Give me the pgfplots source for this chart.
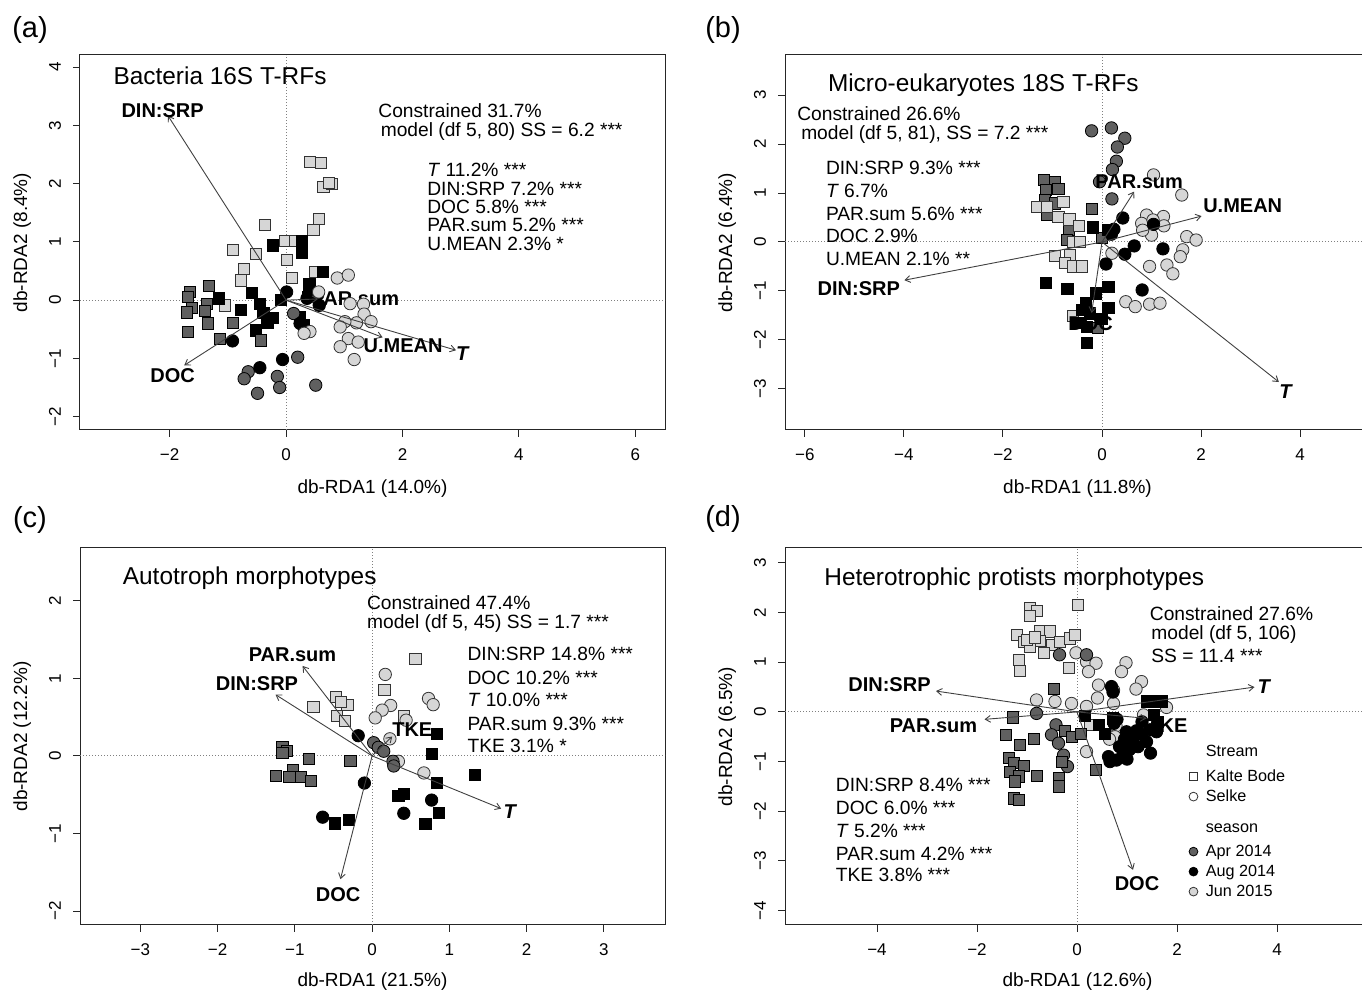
\documentclass[border=0pt]{standalone}
\usepackage{fontspec}
\setmainfont{Liberation Sans}
\usepackage{pgfplots}
\pgfplotsset{compat=1.18}
\usetikzlibrary{arrows.meta}

\definecolor{aprc}{RGB}{96,96,96}
\definecolor{junc}{RGB}{214,214,214}

\newcommand\fT{\fontsize{12.2}{14}\selectfont}
\newcommand\fS{\fontsize{9.6}{11}\selectfont}
\newcommand\fB{\fontsize{10}{12}\selectfont\bfseries}
\newcommand\fK{\fontsize{8.5}{10}\selectfont}
\newcommand\fL{\fontsize{9.5}{11}\selectfont}
\newcommand\fP{\fontsize{14.5}{16}\selectfont}
\newcommand\fG{\fontsize{8.1}{10}\selectfont}

\tikzset{
  zl/.style={densely dotted, gray, line width=0.5pt},
  lab/.style={font=\fB, inner sep=0pt},
  txt/.style={font=\fS, anchor=west, inner sep=0pt},
}

\pgfplotsset{
  rda/.style={
    scale only axis, width=292.5pt, height=187.5pt, anchor=south west,
    axis line style={line width=0.5pt, black!85},
    tick align=outside, tick pos=left,
    major tick length=3.5pt,
    tick style={black!85, line width=0.5pt},
    xticklabel style={anchor=center, font=\fK},
    yticklabel style={anchor=center, rotate=90, font=\fK},
    xticklabel shift=9pt, yticklabel shift=9pt,
    every axis x label/.style={at={(axis description cs:0.5,-0.155)}, anchor=center, font=\fL},
    every axis y label/.style={at={(axis description cs:-0.099,0.5)}, rotate=90, anchor=center, font=\fL},
    clip mode=individual,
  },
  sqA/.style={only marks, forget plot, mark=square*, mark size=2.8pt, mark options={fill=aprc, draw=black, line width=0.4pt}},
  sqB/.style={only marks, forget plot, mark=square*, mark size=2.8pt, mark options={fill=black, draw=black, line width=0.4pt}},
  sqJ/.style={only marks, forget plot, mark=square*, mark size=2.8pt, mark options={fill=junc, draw=black!80, line width=0.4pt}},
  ciA/.style={only marks, forget plot, mark=*, mark size=3.1pt, mark options={fill=aprc, draw=black, line width=0.4pt}},
  ciB/.style={only marks, forget plot, mark=*, mark size=3.1pt, mark options={fill=black, draw=black, line width=0.4pt}},
  ciJ/.style={only marks, forget plot, mark=*, mark size=3.1pt, mark options={fill=junc, draw=black!80, line width=0.4pt}},
  arr/.style={no marks, forget plot, line width=0.45pt, black!75, -{Straight Barb[length=2.6pt,width=3.4pt]}},
}

\begin{document}
\begin{tikzpicture}
\path[use as bounding box] (0,0) rectangle (681pt,495.5pt);

\node[font=\fP] at (15pt,480.5pt) {(a)};
\node[font=\fP] at (361.5pt,480.5pt) {(b)};
\node[font=\fP] at (15pt,235.5pt) {(c)};
\node[font=\fP] at (361.5pt,236pt) {(d)};

% ---------------- (a) ----------------
\begin{axis}[rda, at={(40pt,280.5pt)},
  xmin=-3.54, xmax=6.51, ymin=-2.23, ymax=4.21,
  xtick={-2,0,2,4,6}, xticklabels={−2,0,2,4,6},
  ytick={-2,-1,0,1,2,3,4}, yticklabels={−2,−1,0,1,2,3,4},
  xlabel={db-RDA1 (14.0\%)}, ylabel={db-RDA2 (8.4\%)}]
\draw[zl] ({rel axis cs:0,0}|-{axis cs:0,0}) -- ({rel axis cs:1,0}|-{axis cs:0,0});
\draw[zl] ({rel axis cs:0,0}-|{axis cs:0,0}) -- ({rel axis cs:0,1}-|{axis cs:0,0});
\node[lab] at (axis cs:1.19,0.02) {PAR.sum};
\addplot[sqJ] coordinates {(0.41,2.38) (0.60,2.35) (0.64,1.95) (0.79,2.00) (0.74,2.02) (0.57,1.39) (0.47,1.20) (-0.37,1.29) (-0.02,1.02) (0.15,1.02) (-0.91,0.86) (-0.52,0.80) (0.02,0.69) (-0.73,0.54) (-0.77,0.34) (0.10,0.38) (0.50,0.49) (-1.05,-0.09)};
\addplot[sqB] coordinates {(-0.22,0.94) (0.27,1.02) (0.27,0.81) (0.63,0.48) (0.40,0.27) (-0.59,0.13) (-1.15,0.03) (-0.77,-0.17) (-0.45,-0.07) (-0.09,0.00) (-0.39,-0.22) (-0.23,-0.31) (-0.32,-0.39) (-0.52,-0.52) (0.38,0.06) (0.24,-0.29) (0.30,-0.43)};
\addplot[sqA] coordinates {(-1.65,0.14) (-1.68,0.06) (-1.32,0.24) (-1.36,-0.07) (-1.62,-0.13) (-1.71,-0.21) (-1.39,-0.18) (-1.34,-0.40) (-0.92,-0.39) (-1.68,-0.54) (-1.13,-0.66) (-0.43,-0.69)};
\addplot[ciA] coordinates {(0.13,-0.23) (0.20,-0.98) (-0.65,-1.23) (-0.72,-1.35) (-0.15,-1.31) (-0.11,-1.50) (-0.49,-1.60) (0.51,-1.46)};
\addplot[ciB] coordinates {(0.01,0.14) (0.36,0.03) (0.57,-0.09) (0.24,-0.40) (-0.92,-0.70) (-0.06,-1.02) (-0.45,-1.16)};
\addplot[ciJ] coordinates {(0.88,0.38) (1.07,0.43) (0.56,0.14) (1.10,-0.06) (1.33,-0.07) (1.34,-0.24) (1.46,-0.37) (1.21,-0.39) (1.01,-0.37) (0.93,-0.46) (0.41,-0.54) (0.31,-0.57) (1.07,-0.66) (0.93,-0.80) (1.24,-0.72) (1.17,-1.02)};
\addplot[arr] coordinates {(0,0) (-2.03,3.17)};
\addplot[arr] coordinates {(0,0) (-1.75,-1.12)};
\addplot[arr] coordinates {(0,0) (2.92,-0.86)};
\addplot[arr] coordinates {(0,0) (1.66,-0.64)};
\addplot[arr] coordinates {(0,0) (0.55,0.02)};
\node[lab] at (axis cs:-2.12,3.26) {DIN:SRP};
\node[lab] at (axis cs:-1.95,-1.29) {DOC};
\node[lab] at (axis cs:2.01,-0.79) {U.MEAN};
\node[lab] at (axis cs:3.04,-0.91) {\textit{T}};
\node[txt, font=\fT] at (axis cs:-2.97,3.85) {Bacteria 16S T-RFs};
\node[txt] at (axis cs:1.58,3.25) {Constrained 31.7\%};
\node[txt] at (axis cs:1.62,2.90) {model (df 5, 80) SS = 6.2 ***};
\node[txt, font=\fontsize{9.6}{8.2}\selectfont] at (axis cs:2.42,1.56)
  {\begin{tabular}{@{}l@{}}\textit{T} 11.2\% ***\\ DIN:SRP 7.2\% ***\\ DOC 5.8\% ***\\ PAR.sum 5.2\% ***\\ U.MEAN 2.3\% *\end{tabular}};
\end{axis}

% ---------------- (b) ----------------
\begin{axis}[rda, at={(392.5pt,280.5pt)},
  xmin=-6.40, xmax=5.41, ymin=-3.84, ymax=3.82,
  xtick={-6,-4,-2,0,2,4}, xticklabels={−6,−4,−2,0,2,4},
  ytick={-3,-2,-1,0,1,2,3}, yticklabels={−3,−2,−1,0,1,2,3},
  xlabel={db-RDA1 (11.8\%)}, ylabel={db-RDA2 (6.4\%)}]
\draw[zl] ({rel axis cs:0,0}|-{axis cs:0,0}) -- ({rel axis cs:1,0}|-{axis cs:0,0});
\draw[zl] ({rel axis cs:0,0}-|{axis cs:0,0}) -- ({rel axis cs:0,1}-|{axis cs:0,0});
\addplot[ciA] coordinates {(-0.21,2.27) (0.19,2.33) (0.46,2.12) (0.31,1.94) (0.29,1.65) (0.21,1.48) (-0.05,1.23) (0.20,0.88)};
\addplot[sqA] coordinates {(-1.17,1.27) (-0.95,1.23) (-0.88,1.08) (-1.13,1.06) (-1.15,0.86) (-0.95,0.79) (-1.12,0.55) (-0.67,0.24) (-0.71,0.04) (-0.21,0.67) (-0.01,0.08) (-0.09,-1.76)};
\addplot[sqJ] coordinates {(-1.32,0.72) (-1.12,0.72) (-0.78,0.82) (-0.88,0.52) (-0.66,0.46) (-0.46,0.33) (-0.58,0.01) (-0.95,-0.28) (-0.65,-0.27) (-0.75,-0.43) (-0.59,-0.50) (-0.41,-0.50) (-0.58,-1.51) (-0.45,0.00)};
\addplot[sqB] coordinates {(-0.19,0.30) (0.13,0.24) (-1.13,-0.84) (-0.70,-0.96) (0.13,-0.91) (-0.12,-1.05) (-0.32,-1.24) (0.13,-1.35) (-0.41,-1.39) (-0.24,-1.46) (-0.48,-1.66) (-0.31,-1.73) (-0.31,-2.06) (-0.01,-1.57)};
\addplot[ciJ] coordinates {(1.04,1.37) (1.61,0.96) (0.90,0.55) (1.24,0.52) (0.80,0.38) (1.25,0.33) (1.00,0.14) (0.82,0.24) (1.71,0.11) (1.90,0.04) (1.63,-0.16) (1.58,-0.30) (1.31,-0.47) (1.43,-0.65) (0.96,-0.50) (0.20,-0.23) (0.48,-1.22) (0.67,-1.32) (0.96,-1.27) (1.17,-1.25) (1.03,0.45)};
\addplot[ciB] coordinates {(0.42,0.49) (0.19,0.16) (0.24,0.26) (1.04,0.36) (0.65,-0.08) (0.46,-0.25) (1.23,-0.14) (0.08,-0.45) (0.81,-0.98)};
\addplot[arr] coordinates {(0,0) (0.65,1.03)};
\addplot[arr] coordinates {(0,0) (2.01,0.53)};
\addplot[arr] coordinates {(0,0) (-3.99,-0.78)};
\addplot[arr] coordinates {(0,0) (3.57,-2.86)};
\addplot[arr] coordinates {(0,0) (-0.21,-1.45)};
\node[lab] at (axis cs:-0.23,-1.67) {DOC};
\node[lab] at (axis cs:0.75,1.24) {PAR.sum};
\node[lab] at (axis cs:2.84,0.75) {U.MEAN};
\node[lab] at (axis cs:-4.91,-0.95) {DIN:SRP};
\node[lab] at (axis cs:3.72,-3.06) {\textit{T}};
\node[txt, font=\fT] at (axis cs:-5.54,3.21) {Micro-eukaryotes 18S T-RFs};
\node[txt] at (axis cs:-6.16,2.63) {Constrained 26.6\%};
\node[txt] at (axis cs:-6.08,2.19) {model (df 5, 81), SS = 7.2 ***};
\node[txt] at (axis cs:-5.58,1.51) {DIN:SRP 9.3\% ***};
\node[txt] at (axis cs:-5.58,1.04) {\textit{T} 6.7\%};
\node[txt] at (axis cs:-5.58,0.58) {PAR.sum 5.6\% ***};
\node[txt] at (axis cs:-5.58,0.12) {DOC 2.9\%};
\node[txt] at (axis cs:-5.58,-0.34) {U.MEAN 2.1\% **};
\end{axis}

% ---------------- (c) ----------------
\begin{axis}[rda, at={(40pt,33pt)}, height=188.5pt,
  xmin=-3.78, xmax=3.79, ymin=-2.18, ymax=2.68,
  xtick={-3,-2,-1,0,1,2,3}, xticklabels={−3,−2,−1,0,1,2,3},
  ytick={-2,-1,0,1,2}, yticklabels={−2,−1,0,1,2},
  every axis x label/.style={at={(axis description cs:0.5,-0.149)}, anchor=center, font=\fL},
  xlabel={db-RDA1 (21.5\%)}, ylabel={db-RDA2 (12.2\%)}]
\draw[zl] ({rel axis cs:0,0}|-{axis cs:0,0}) -- ({rel axis cs:1,0}|-{axis cs:0,0});
\draw[zl] ({rel axis cs:0,0}-|{axis cs:0,0}) -- ({rel axis cs:0,1}-|{axis cs:0,0});
\addplot[sqJ] coordinates {(0.56,1.25) (0.16,0.85) (-0.76,0.63) (-0.47,0.76) (-0.32,0.66) (-0.46,0.52) (-0.35,0.45) (0.41,0.51) (-0.40,0.70)};
\addplot[sqA] coordinates {(-1.16,0.12) (-1.10,0.06) (-1.16,0.04) (-0.82,-0.04) (-0.28,-0.06) (-1.24,-0.26) (-1.03,-0.18) (-1.07,-0.27) (-0.92,-0.27) (-0.79,-0.32)};
\addplot[sqB] coordinates {(0.84,0.28) (0.77,0.03) (1.33,-0.25) (0.84,-0.35) (0.41,-0.49) (0.34,-0.52) (0.86,-0.73) (0.69,-0.88) (-0.48,-0.87) (-0.30,-0.83)};
\addplot[ciJ] coordinates {(0.17,1.05) (0.73,0.74) (0.79,0.66) (0.24,0.65) (0.13,0.59) (0.04,0.49) (0.44,0.46) (0.23,0.22) (0.34,-0.07) (0.67,-0.22)};
\addplot[ciA] coordinates {(0.02,0.17) (0.08,0.11) (0.15,0.06) (0.27,-0.07) (0.28,-0.13)};
\addplot[ciB] coordinates {(-0.18,0.26) (-0.10,-0.35) (-0.64,-0.79) (0.77,-0.57) (0.41,-0.74)};
\addplot[arr] coordinates {(0,0) (-0.90,1.16)};
\addplot[arr] coordinates {(0,0) (-1.25,0.79)};
\addplot[arr] coordinates {(0,0) (-0.41,-1.59)};
\addplot[arr] coordinates {(0,0) (1.67,-0.68)};
\addplot[arr] coordinates {(0,0) (0.26,0.25)};
\node[lab] at (axis cs:-1.03,1.31) {PAR.sum};
\node[lab] at (axis cs:-1.49,0.93) {DIN:SRP};
\node[lab] at (axis cs:-0.44,-1.79) {DOC};
\node[lab] at (axis cs:1.79,-0.72) {\textit{T}};
\node[lab] at (axis cs:0.52,0.34) {TKE};
\node[txt, font=\fT] at (axis cs:-3.23,2.29) {Autotroph morphotypes};
\node[txt] at (axis cs:-0.07,1.97) {Constrained 47.4\%};
\node[txt] at (axis cs:-0.07,1.70) {model (df 5, 45) SS = 1.7 ***};
\node[txt] at (axis cs:1.23,1.31) {DIN:SRP 14.8\% ***};
\node[txt] at (axis cs:1.23,1.00) {DOC 10.2\% ***};
\node[txt] at (axis cs:1.23,0.72) {\textit{T} 10.0\% ***};
\node[txt] at (axis cs:1.23,0.41) {PAR.sum 9.3\% ***};
\node[txt] at (axis cs:1.23,0.13) {TKE 3.1\% *};
\end{axis}

% ---------------- (d) ----------------
\begin{axis}[rda, at={(392.5pt,33pt)}, height=188.5pt,
  xmin=-5.84, xmax=5.86, ymin=-4.29, ymax=3.30,
  xtick={-4,-2,0,2,4}, xticklabels={−4,−2,0,2,4},
  ytick={-4,-3,-2,-1,0,1,2,3}, yticklabels={−4,−3,−2,−1,0,1,2,3},
  every axis x label/.style={at={(axis description cs:0.5,-0.149)}, anchor=center, font=\fL},
  xlabel={db-RDA1 (12.6\%)}, ylabel={db-RDA2 (6.5\%)},
  legend style={at={(axis cs:1.98,-0.61)}, anchor=north west, draw=none, fill=none,
    font=\fG, row sep=1pt, column sep=3pt, inner sep=0pt,
    nodes={inner sep=1pt, text height=6pt, text depth=1pt}},
  legend cell align=left]
\draw[zl] ({rel axis cs:0,0}|-{axis cs:0,0}) -- ({rel axis cs:1,0}|-{axis cs:0,0});
\draw[zl] ({rel axis cs:0,0}-|{axis cs:0,0}) -- ({rel axis cs:0,1}-|{axis cs:0,0});
\node[lab] at (axis cs:1.81,-0.27) {TKE};
\addplot[sqJ] coordinates {(0.01,2.15) (-0.94,2.09) (-0.81,2.04) (-0.95,1.93) (-1.21,1.55) (-1.07,1.41) (-0.75,1.62) (-0.55,1.62) (-0.74,1.43) (-0.51,1.35) (-0.34,1.41) (-0.15,1.48) (-0.04,1.55) (-0.94,1.31) (-0.67,1.18) (-1.17,1.05) (-1.14,0.83) (-0.17,0.88) (0.25,-0.26) (-1.00,1.45) (-0.85,1.50)};
\addplot[ciJ] coordinates {(-0.02,1.19) (0.19,1.01) (0.38,0.98) (0.23,0.81) (0.98,0.99) (0.89,0.81) (1.29,0.61) (1.18,0.46) (0.43,0.54) (0.41,0.28) (0.73,0.44) (0.73,0.17) (-0.81,0.24) (-0.44,0.21) (-0.11,0.17) (0.19,0.11) (1.79,0.09) (1.33,-0.06) (0.78,-0.28) (0.76,-0.50) (0.19,-0.80) (0.65,-0.55)};
\addplot[ciA] coordinates {(-0.35,1.15) (0.19,1.15) (-0.81,-0.03) (-0.42,-0.26) (-0.51,-0.46) (-0.37,-0.63) (-0.27,-0.87) (-0.19,-1.10)};
\addplot[sqA] coordinates {(-0.47,0.46) (-1.29,-0.11) (-1.42,-0.47) (-1.15,-0.66) (-0.87,-0.55) (-0.24,-0.38) (-0.11,-0.50) (0.07,-0.44) (-1.37,-0.93) (-1.27,-1.02) (-1.07,-1.09) (-1.34,-1.20) (-1.17,-1.30) (-1.24,-1.40) (-0.81,-1.29) (-0.37,-1.33) (-0.37,-1.50) (-0.31,-1.00) (0.38,-1.17) (-1.27,-1.74) (-1.17,-1.77)};
\addplot[sqB] coordinates {(1.39,0.21) (1.55,0.21) (1.69,0.21) (0.16,-0.08) (0.43,-0.26) (0.71,-0.13) (1.53,-0.06) (1.61,-0.20) (1.16,-0.45) (1.00,-0.50) (0.55,-0.45)};
\addplot[ciB] coordinates {(0.69,0.51) (0.72,0.40) (0.74,-0.23) (0.80,-0.15) (0.99,-0.40) (1.19,-0.38) (1.30,-0.45) (1.46,-0.36) (1.59,-0.40) (1.61,-0.23) (1.39,-0.60) (1.22,-0.70) (1.05,-0.76) (0.92,-0.87) (0.79,-0.97) (0.66,-1.00) (0.63,-0.90) (1.47,-0.83) (1.11,-0.57) (0.85,-0.70) (1.30,-0.20) (0.95,-0.55) (1.00,-0.95)};
\addplot[arr] coordinates {(0,0) (-2.82,0.42)};
\addplot[arr] coordinates {(0,0) (-1.85,-0.15)};
\addplot[arr] coordinates {(0,0) (3.55,0.50)};
\addplot[arr] coordinates {(0,0) (1.39,-0.13)};
\addplot[arr] coordinates {(0,0) (1.12,-3.18)};
\node[lab] at (axis cs:-3.75,0.54) {DIN:SRP};
\node[lab] at (axis cs:-2.87,-0.27) {PAR.sum};
\node[lab] at (axis cs:3.75,0.50) {\textit{T}};
\node[lab] at (axis cs:1.20,-3.45) {DOC};
\node[txt, font=\fT] at (axis cs:-5.06,2.67) {Heterotrophic protists morphotypes};
\node[txt] at (axis cs:1.45,1.98) {Constrained 27.6\%};
\node[txt] at (axis cs:1.48,1.55) {model (df 5, 106)};
\node[txt] at (axis cs:1.48,1.13) {SS = 11.4 ***};
\node[txt] at (axis cs:-4.83,-1.47) {DIN:SRP 8.4\% ***};
\node[txt] at (axis cs:-4.83,-1.94) {DOC 6.0\% ***};
\node[txt] at (axis cs:-4.83,-2.40) {\textit{T} 5.2\% ***};
\node[txt] at (axis cs:-4.83,-2.85) {PAR.sum 4.2\% ***};
\node[txt] at (axis cs:-4.83,-3.28) {TKE 3.8\% ***};
\addlegendimage{empty legend}\addlegendentry[text depth=3.5pt]{Stream}
\addlegendimage{only marks, mark=square, mark size=2pt, mark options={draw=black!80, line width=0.4pt}}\addlegendentry{Kalte Bode}
\addlegendimage{only marks, mark=o, mark size=2.2pt, mark options={draw=black!80, line width=0.4pt}}\addlegendentry{Selke}
\addlegendimage{empty legend}\addlegendentry[text height=11.5pt, text depth=3pt]{season}
\addlegendimage{only marks, mark=*, mark size=2.2pt, mark options={fill=aprc, draw=black}}\addlegendentry{Apr 2014}
\addlegendimage{only marks, mark=*, mark size=2.2pt, mark options={fill=black, draw=black}}\addlegendentry{Aug 2014}
\addlegendimage{only marks, mark=*, mark size=2.2pt, mark options={fill=junc, draw=black!80}}\addlegendentry{Jun 2015}
\end{axis}
\end{tikzpicture}
\end{document}
